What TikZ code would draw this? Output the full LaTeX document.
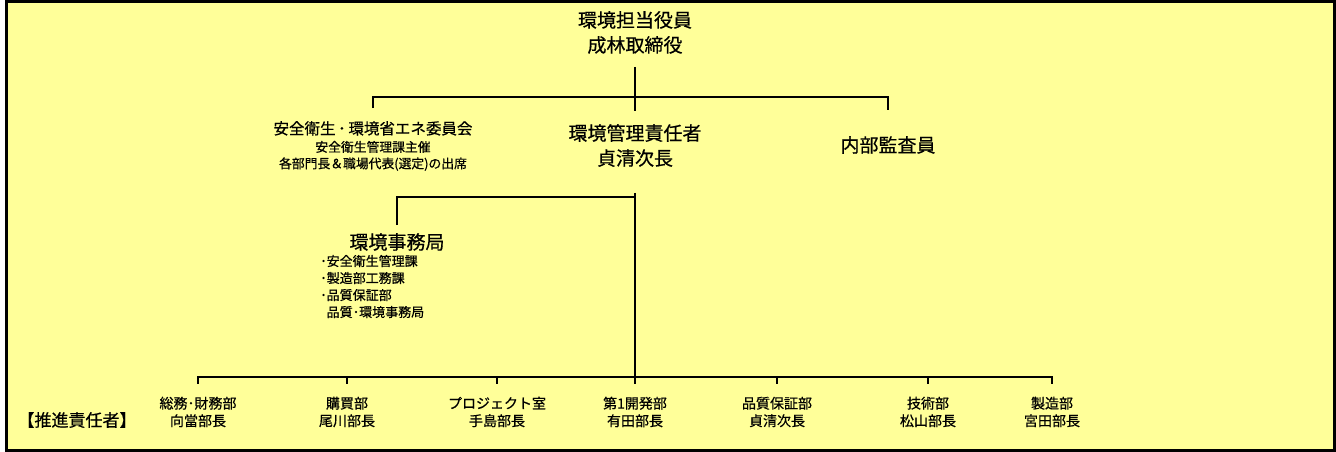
\documentclass[tikz,border=0pt]{standalone}
\usepackage{fontspec}
\newfontfamily\cjk[FakeBold=0.6]{Noto Sans CJK JP}
\definecolor{chartbg}{HTML}{FFFF99}
\begin{document}
\begin{tikzpicture}[x=1pt,y=-1pt,
  role/.style={font=\cjk\fontsize{19}{25}\selectfont,align=center,inner sep=0pt,outer ysep=13pt},
  panel/.style={font=\cjk\fontsize{12.8}{16.5}\selectfont,align=center,inner sep=0pt,outer ysep=13pt},
  note/.style={font=\cjk\fontsize{13}{17}\selectfont,align=left,inner sep=0pt},
  dept/.style={font=\cjk\fontsize{14}{17.5}\selectfont,align=center,inner sep=0pt,outer ysep=13pt},
  link/.style={line width=2pt}]
\useasboundingbox (0,0) rectangle (1336,452);
\draw[line width=3pt,fill=chartbg] (6.5,1.5) rectangle (1334.5,450.5);

\node[role] (exec) at (635,32.5) {環境担当役員\\成林取締役};
\node[panel] (committee) at (373,146) {{\fontsize{15.5}{17}\selectfont 安全衛生\,･\,環境省エネ委員会}\\[1pt]安全衛生管理課主催\\各部門長＆職場代表(選定)の出席};
\node[role] (manager) at (635,145.5) {環境管理責任者\\貞清次長};
\node[role,outer ysep=26pt] (audit) at (888,145) {内部監査員};
\node[role,outer ysep=8pt] (office) at (397,242) {環境事務局};
\node[note,anchor=west] (officelist) at (320,286.5) {･安全衛生管理課\\･製造部工務課\\･品質保証部\\\hphantom{･}品質･環境事務局};

\node[font=\cjk\fontsize{17}{20}\selectfont,inner sep=0pt] (promoter) at (77,420) {【推進責任者】};
\node[dept] (general) at (198,412) {総務･財務部\\向當部長};
\node[dept] (purchase) at (347,412) {購買部\\尾川部長};
\node[dept] (project) at (497,412) {プロジェクト室\\手島部長};
\node[dept] (devone) at (635,412) {第1開発部\\有田部長};
\node[dept] (quality) at (777,412) {品質保証部\\貞清次長};
\node[dept] (tech) at (928,412) {技術部\\松山部長};
\node[dept] (mfg) at (1052,412) {製造部\\宮田部長};

\coordinate (topbar) at (635,97);
\coordinate (hub) at (635,197);
\coordinate (base) at (635,377);
\draw[link] (exec.south) -- (manager.north);
\draw[link] (committee.north) |- (topbar) -| (audit.north);
\draw[link] ([yshift=-13pt]manager.south) -- (base);
\draw[link] (office.north) |- (hub);
\draw[link] (general.north) |- (base) -| (mfg.north);
\draw[link] (purchase.north) -- (purchase.north |- base);
\draw[link] (project.north) -- (project.north |- base);
\draw[link] (devone.north) -- (devone.north |- base);
\draw[link] (quality.north) -- (quality.north |- base);
\draw[link] (tech.north) -- (tech.north |- base);
\end{tikzpicture}
\end{document}
